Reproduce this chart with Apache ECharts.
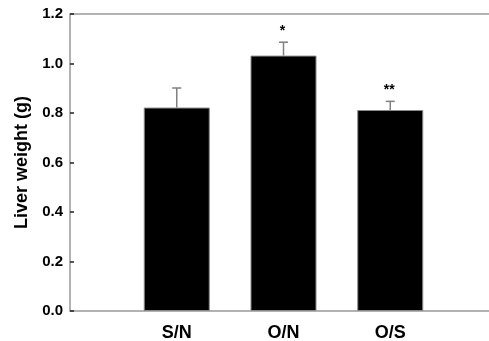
<!DOCTYPE html>
<html>
<head>
<meta charset="utf-8">
<script src="https://cdn.jsdelivr.net/npm/echarts@6/dist/echarts.min.js"></script>
<style>
  html, body { margin: 0; padding: 0; background: #fff; }
  #main { width: 489px; height: 341px; }
</style>
</head>
<body>
<div id="main"></div>
<script>
// 数据
var categories = ['S/N', 'O/N', 'O/S'];
var means = [0.822, 1.032, 0.812];
var errors = [0.079, 0.054, 0.035];
var marks = ['', '*', '**'];
var yTicks = [0, 0.2, 0.4, 0.6, 0.8, 1.0, 1.2];

// 两端留空的类目轴
var xData = [''].concat(categories, ['']);

var chart = echarts.init(document.getElementById('main'));

var option = {
    animation: false,
    backgroundColor: '#fff',
    grid: { left: 70, right: -8, top: 14, bottom: 30, outerBoundsMode: 'none', containLabel: false },
    xAxis: [{
        type: 'category',
        data: xData,
        boundaryGap: false,
        axisLine: { lineStyle: { color: '#999', width: 1.5 } },
        axisTick: { show: false },
        axisLabel: {
            color: '#000', fontFamily: 'Liberation Sans, Arial', fontWeight: 'bold',
            fontSize: 18, margin: 13, interval: 0
        },
        splitLine: { show: false }
    }, {
        type: 'category',
        data: xData,
        boundaryGap: false,
        position: 'top',
        axisLine: { onZero: false, lineStyle: { color: '#999', width: 1.5 } },
        axisTick: { show: false },
        axisLabel: { show: false }
    }],
    yAxis: {
        type: 'value',
        min: yTicks[0],
        max: yTicks[yTicks.length - 1],
        interval: 0.2,
        name: 'Liver weight (g)',
        nameLocation: 'middle',
        nameGap: 39,
        nameTextStyle: { color: '#000', fontFamily: 'Liberation Sans, Arial', fontWeight: 'bold', fontSize: 18 },
        axisLine: { show: true, lineStyle: { color: '#999', width: 1.5 } },
        axisTick: { show: true, inside: true, length: 4, lineStyle: { color: '#222', width: 1.5 } },
        axisLabel: {
            color: '#000', fontFamily: 'Liberation Sans, Arial', fontWeight: 'bold',
            fontSize: 15, margin: 7,
            formatter: function (v) { return v.toFixed(1); }
        },
        splitLine: { show: false }
    },
    series: [{
        type: 'bar',
        barWidth: 66,
        data: means.map(function (v, i) { return [categories[i], v]; }),
        itemStyle: { color: '#000', borderColor: '#888', borderWidth: 1 },
        z: 2
    }, {
        // 误差线 + 显著性标记
        type: 'custom',
        data: means.map(function (v, i) { return [categories[i], v, v + errors[i], marks[i]]; }),
        renderItem: function (params, api) {
            var base = api.coord([api.value(0), api.value(1)]);
            var top = api.coord([api.value(0), api.value(2)]);
            var half = 4.5;
            var style = { stroke: '#808080', lineWidth: 1.5 };
            return {
                type: 'group',
                children: [{
                    type: 'line',
                    shape: { x1: base[0], y1: base[1], x2: top[0], y2: top[1] },
                    style: style
                }, {
                    type: 'line',
                    shape: { x1: top[0] - half, y1: top[1], x2: top[0] + half, y2: top[1] },
                    style: style
                }, {
                    type: 'text',
                    style: {
                        text: marks[params.dataIndex],
                        x: top[0] - 1, y: top[1] - 11,
                        align: 'center', verticalAlign: 'middle',
                        fill: '#000', font: 'bold 14px Liberation Sans, Arial'
                    }
                }]
            };
        },
        z: 3
    }]
};

chart.setOption(option);
</script>
</body>
</html>
